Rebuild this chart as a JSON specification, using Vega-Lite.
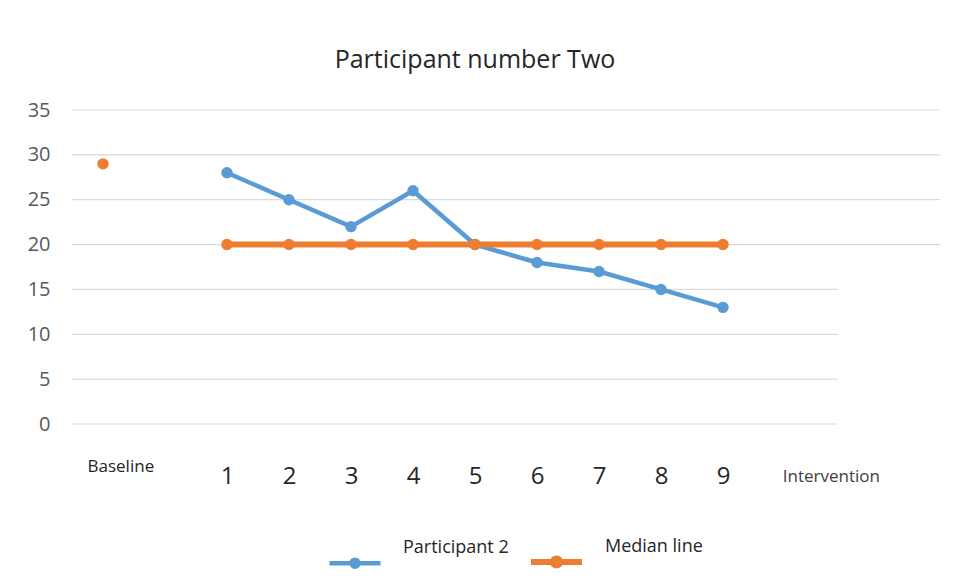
{
  "$schema": "https://vega.github.io/schema/vega-lite/v6.json",
  "width": 868,
  "height": 314,
  "autosize": {"type": "none"},
  "padding": {"left": 72, "top": 110, "right": 18, "bottom": 158},
  "background": "white",
  "title": {
    "text": "Participant number Two",
    "font": "Open Sans",
    "fontSize": 25,
    "fontWeight": "normal",
    "color": "#262626",
    "anchor": "middle",
    "dx": -31,
    "offset": 27
  },
  "config": {
    "view": {"stroke": null},
    "font": "Open Sans"
  },
  "data": {
    "values": [
      {"session": -1, "score": 29, "series": "Median line", "phase": "Baseline"},
      {"session": 1, "score": 28, "series": "Participant 2", "phase": "Intervention"},
      {"session": 2, "score": 25, "series": "Participant 2", "phase": "Intervention"},
      {"session": 3, "score": 22, "series": "Participant 2", "phase": "Intervention"},
      {"session": 4, "score": 26, "series": "Participant 2", "phase": "Intervention"},
      {"session": 5, "score": 20, "series": "Participant 2", "phase": "Intervention"},
      {"session": 6, "score": 18, "series": "Participant 2", "phase": "Intervention"},
      {"session": 7, "score": 17, "series": "Participant 2", "phase": "Intervention"},
      {"session": 8, "score": 15, "series": "Participant 2", "phase": "Intervention"},
      {"session": 9, "score": 13, "series": "Participant 2", "phase": "Intervention"},
      {"session": 1, "score": 20, "series": "Median line", "phase": "Intervention"},
      {"session": 2, "score": 20, "series": "Median line", "phase": "Intervention"},
      {"session": 3, "score": 20, "series": "Median line", "phase": "Intervention"},
      {"session": 4, "score": 20, "series": "Median line", "phase": "Intervention"},
      {"session": 5, "score": 20, "series": "Median line", "phase": "Intervention"},
      {"session": 6, "score": 20, "series": "Median line", "phase": "Intervention"},
      {"session": 7, "score": 20, "series": "Median line", "phase": "Intervention"},
      {"session": 8, "score": 20, "series": "Median line", "phase": "Intervention"},
      {"session": 9, "score": 20, "series": "Median line", "phase": "Intervention"}
    ]
  },
  "layer": [
    {
      "data": {"values": [{"tick": 20}, {"tick": 25}, {"tick": 30}, {"tick": 35}]},
      "mark": {"type": "rule", "color": "#D9D9D9", "strokeWidth": 1.2},
      "encoding": {
        "y": {"field": "tick", "type": "quantitative", "scale": {"domain": [0, 35], "nice": false}},
        "x": {"datum": -1.5, "type": "quantitative"},
        "x2": {"datum": 12.5}
      }
    },
    {
      "data": {"values": [{"tick": 0}, {"tick": 5}, {"tick": 10}, {"tick": 15}]},
      "mark": {"type": "rule", "color": "#D9D9D9", "strokeWidth": 1.2},
      "encoding": {
        "y": {"field": "tick", "type": "quantitative"},
        "x": {"datum": -1.5, "type": "quantitative"},
        "x2": {"datum": 10.85}
      }
    },
    {
      "mark": {"type": "line", "strokeCap": "round", "strokeJoin": "round"},
      "encoding": {
        "x": {
          "field": "session",
          "type": "quantitative",
          "scale": {"domain": [-1.5, 12.5], "nice": false, "zero": false},
          "axis": {
            "title": null,
            "domain": false,
            "ticks": false,
            "tickSize": 0,
            "grid": false,
            "values": [-0.72, 1, 2, 3, 4, 5, 6, 7, 8, 9, 10.74],
            "labelExpr": "datum.value < 0 ? 'Baseline' : (datum.value > 10 ? 'Intervention' : format(datum.value, 'd'))",
            "labelFont": "Open Sans",
            "labelFontSize": {"condition": {"test": "datum.value < 0 || datum.value > 10", "value": 17}, "value": 24},
            "labelColor": {"condition": {"test": "datum.value > 10", "value": "#404040"}, "value": "#262626"},
            "labelBaseline": {"condition": {"test": "datum.value < 0", "value": "line-bottom"}, "value": "middle"},
            "labelPadding": 52,
            "labelFlush": false,
            "labelOverlap": false
          }
        },
        "y": {
          "field": "score",
          "type": "quantitative",
          "scale": {"domain": [0, 35], "nice": false},
          "axis": {
            "title": null,
            "domain": false,
            "ticks": false,
            "tickSize": 0,
            "grid": false,
            "values": [0, 5, 10, 15, 20, 25, 30, 35],
            "labelFont": "Open Sans",
            "labelFontSize": 20,
            "labelColor": "#595959",
            "labelPadding": 22
          }
        },
        "color": {
          "field": "series",
          "type": "nominal",
          "scale": {"domain": ["Participant 2", "Median line"], "range": ["#5B9BD5", "#ED7D31"]},
          "legend": {
            "title": null,
            "orient": "none",
            "direction": "horizontal",
            "legendX": 255,
            "legendY": 423,
            "symbolType": "M-1,0H1M-0.14,0a0.14,0.14 0 1,0 0.28,0a0.14,0.14 0 1,0 -0.28,0",
            "symbolSize": 2601,
            "symbolStrokeWidth": 5,
            "labelFont": "Open Sans",
            "labelFontSize": 18,
            "labelColor": "#262626",
            "labelOffset": 20,
            "labelBaseline": "bottom",
            "columnPadding": 10,
            "labelLimit": 300,
            "encode": {
              "symbols": {"update": {"fill": {"scale": "color", "field": "value"}, "stroke": {"scale": "color", "field": "value"}, "opacity": {"value": 1}}},
              "labels": {"update": {"dy": {"value": -6}}}
            }
          }
        },
        "strokeWidth": {
          "field": "series",
          "type": "nominal",
          "scale": {"domain": ["Participant 2", "Median line"], "range": [4.5, 6]},
          "legend": null
        },
        "detail": {"field": "phase"}
      }
    },
    {
      "mark": {"type": "point", "filled": true, "opacity": 1, "size": 130},
      "encoding": {
        "x": {"field": "session", "type": "quantitative"},
        "y": {"field": "score", "type": "quantitative"},
        "color": {"field": "series", "type": "nominal"}
      }
    }
  ]
}
